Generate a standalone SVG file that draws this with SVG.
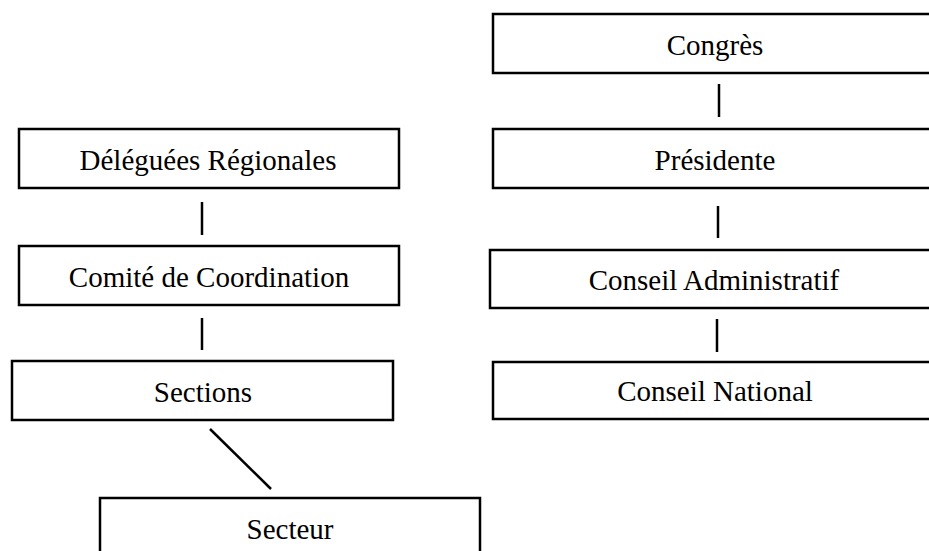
<svg xmlns="http://www.w3.org/2000/svg" width="929" height="551" viewBox="0 0 929 551" font-family="'Liberation Serif', 'Times New Roman', Times, serif">
<style>
rect.box{fill:#fff;stroke:#000;stroke-width:2.5}
text{font-family:'Liberation Serif', 'Times New Roman', Times, serif;font-size:29px;fill:#000;text-anchor:middle}
#connectors line{stroke:#000;stroke-width:2.5}
</style>
<rect width="929" height="551" fill="#fff"/>
<g id="connectors">
<line x1="719" y1="84" x2="719" y2="117"/>
<line x1="718" y1="206" x2="718" y2="238"/>
<line x1="717" y1="319" x2="717" y2="352"/>
<line x1="202" y1="202" x2="202" y2="235"/>
<line x1="202" y1="318" x2="202" y2="350"/>
<line x1="210" y1="429" x2="271" y2="489"/>
</g>
<line x1="208" y1="364" x2="212" y2="368" stroke="#4a7fd0" stroke-width="1"/>
<g id="congres"><rect class="box" x="493" y="14" width="445" height="59"/><text x="715" y="55">Congrès</text></g>
<g id="presidente"><rect class="box" x="493" y="129" width="445" height="59"/><text x="715" y="170">Présidente</text></g>
<g id="conseil-administratif"><rect class="box" x="490" y="250" width="448" height="58"/><text x="714" y="290">Conseil Administratif</text></g>
<g id="conseil-national"><rect class="box" x="493" y="362" width="445" height="57"/><text x="715" y="401">Conseil National</text></g>
<g id="deleguees"><rect class="box" x="19" y="129" width="380" height="59"/><text x="208" y="170">Déléguées Régionales</text></g>
<g id="comite"><rect class="box" x="19" y="246" width="380" height="59"/><text x="209" y="287">Comité de Coordination</text></g>
<g id="sections"><rect class="box" x="12" y="361" width="381" height="59"/><text x="203" y="402">Sections</text></g>
<g id="secteur"><rect class="box" x="100" y="498" width="380" height="70"/><text x="290" y="539">Secteur</text></g>
</svg>
